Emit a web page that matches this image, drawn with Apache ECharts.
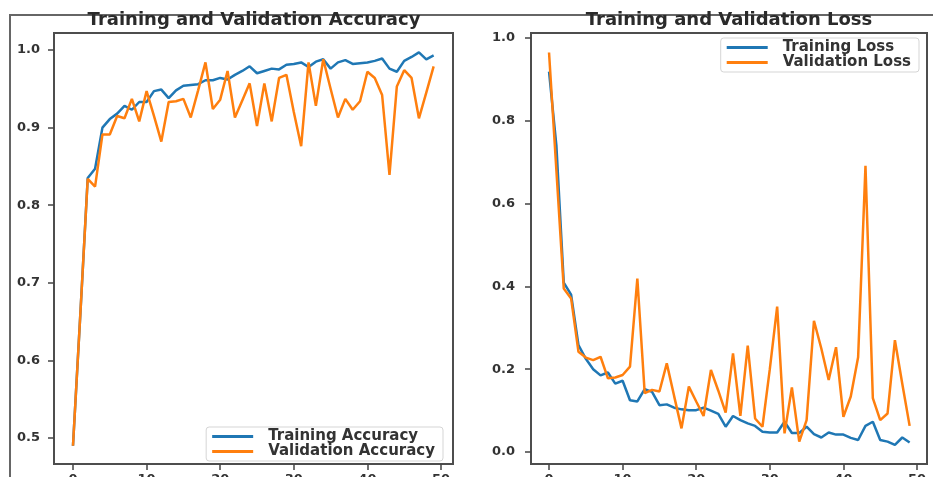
<!DOCTYPE html>
<html><head><meta charset="utf-8">
<script src="https://cdn.jsdelivr.net/npm/echarts@6/dist/echarts.min.js"></script>
<style>html,body{margin:0;padding:0;background:#fff}#c{width:933px;height:477px}</style>
</head><body><div id="c"></div>
<script>
// ---- data ----
const xTicks = [0, 10, 20, 30, 40, 50];
const accTicks = [0.5, 0.6, 0.7, 0.8, 0.9, 1.0];
const lossTicks = [0.0, 0.2, 0.4, 0.6, 0.8, 1.0];

const trainAcc = [0.490,0.660,0.835,0.847,0.900,0.911,0.918,0.928,0.923,0.933,
                  0.933,0.947,0.949,0.938,0.948,0.954,0.955,0.956,0.961,0.961,
                  0.964,0.962,0.968,0.973,0.979,0.970,0.973,0.976,0.975,0.981,
                  0.982,0.984,0.978,0.985,0.988,0.976,0.984,0.987,0.982,0.983,
                  0.984,0.986,0.989,0.976,0.972,0.986,0.991,0.997,0.988,0.993];
const valAcc = [0.490,0.660,0.834,0.824,0.891,0.891,0.915,0.912,0.937,0.908,
                0.947,0.915,0.882,0.933,0.934,0.937,0.913,0.948,0.984,0.924,
                0.936,0.973,0.913,0.935,0.957,0.902,0.957,0.908,0.964,0.968,
                0.920,0.876,0.984,0.928,0.988,0.950,0.913,0.937,0.923,0.934,
                0.972,0.964,0.942,0.839,0.953,0.974,0.964,0.912,0.945,0.979];
const trainLoss = [0.919,0.740,0.409,0.380,0.258,0.225,0.200,0.185,0.192,0.165,
                   0.172,0.125,0.122,0.152,0.145,0.113,0.115,0.107,0.103,0.101,
                   0.101,0.107,0.100,0.092,0.061,0.087,0.077,0.069,0.063,0.049,
                   0.047,0.047,0.073,0.046,0.046,0.061,0.043,0.035,0.047,0.042,
                   0.042,0.034,0.029,0.063,0.073,0.029,0.025,0.017,0.035,0.023];
const valLoss = [0.965,0.680,0.395,0.371,0.242,0.228,0.222,0.230,0.178,0.180,
                 0.186,0.206,0.419,0.142,0.150,0.146,0.214,0.135,0.057,0.158,
                 0.122,0.087,0.198,0.148,0.095,0.238,0.087,0.257,0.081,0.061,
                 0.200,0.351,0.045,0.156,0.025,0.077,0.317,0.250,0.174,0.253,
                 0.085,0.134,0.229,0.691,0.130,0.077,0.093,0.270,0.165,0.063];

const titles = ['Training and Validation Accuracy', 'Training and Validation Loss'];
const names = ['Training Accuracy', 'Validation Accuracy', 'Training Loss', 'Validation Loss'];

// ---- rendering ----
const FONT = 'DejaVu Sans';
const BLUE = '#1f77b4', ORANGE = '#ff7f0e';
const pts = a => a.map((v, i) => [i, v]);

const tickStyle = { show: true, inside: false, length: 6, lineStyle: { color: '#444', width: 1.5 } };
const labelStyle = { fontFamily: FONT, fontSize: 13, fontWeight: 'bold', color: '#333' };

function xAxis(gridIndex, min, max) {
  return {
    type: 'value', gridIndex, min, max, position: 'bottom',
    axisLine: { show: false, onZero: false }, splitLine: { show: false },
    axisTick: Object.assign({ customValues: xTicks }, tickStyle),
    axisLabel: Object.assign({ customValues: xTicks, margin: 9, formatter: v => String(v) }, labelStyle)
  };
}
function yAxis(gridIndex, min, max, ticks, margin) {
  return {
    type: 'value', gridIndex, min, max, position: 'left',
    axisLine: { show: false, onZero: false }, splitLine: { show: false },
    axisTick: Object.assign({ customValues: ticks }, tickStyle),
    axisLabel: Object.assign({ customValues: ticks, margin, formatter: v => v.toFixed(1) }, labelStyle)
  };
}
function line(name, data, color, idx) {
  return {
    type: 'line', name, data: pts(data), xAxisIndex: idx, yAxisIndex: idx,
    showSymbol: false, symbol: 'none', smooth: false,
    lineStyle: { color, width: 2.5 }, itemStyle: { color }
  };
}
const legendBase = {
  orient: 'vertical', icon: 'rect', itemWidth: 41, itemHeight: 3, itemGap: 0,
  padding: [2, 8, 2, 6], backgroundColor: '#fff', borderColor: '#d5d5d5',
  borderWidth: 1, borderRadius: 3, selectedMode: false,
  textStyle: { fontFamily: FONT, fontSize: 15, fontWeight: 'bold', color: '#333',
               lineHeight: 14, padding: [0, 0, 0, 10] }
};
const gridBase = { show: true, borderColor: '#4d4d4d', borderWidth: 2, backgroundColor: 'transparent',
                   containLabel: false, outerBoundsMode: 'none' };

const chart = echarts.init(document.getElementById('c'), null, { renderer: 'canvas' });
chart.setOption({
  animation: false,
  backgroundColor: '#fff',
  title: [
    { text: titles[0], left: 254, top: 11, textAlign: 'center', padding: 0,
      textStyle: { fontFamily: FONT, fontSize: 18, fontWeight: 'bold', color: '#2a2a2a' } },
    { text: titles[1], left: 729, top: 11, textAlign: 'center', padding: 0,
      textStyle: { fontFamily: FONT, fontSize: 18, fontWeight: 'bold', color: '#2a2a2a' } }
  ],
  grid: [
    Object.assign({ left: 54, top: 33, width: 399, height: 431 }, gridBase),
    Object.assign({ left: 531, top: 33, width: 396, height: 431 }, gridBase)
  ],
  xAxis: [xAxis(0, -2.58, 51.63), xAxis(1, -2.45, 51.36)],
  yAxis: [yAxis(0, 0.4665, 1.0219, accTicks, 14), yAxis(1, -0.029, 1.012, lossTicks, 16)],
  legend: [
    Object.assign({}, legendBase, { data: [names[0], names[1]], right: 490, bottom: 16 }),
    Object.assign({}, legendBase, { data: [names[2], names[3]], right: 14, top: 38 })
  ],
  series: [
    line(names[0], trainAcc, BLUE, 0),
    line(names[1], valAcc, ORANGE, 0),
    line(names[2], trainLoss, BLUE, 1),
    line(names[3], valLoss, ORANGE, 1)
  ],
  graphic: [
    { type: 'line', silent: true, shape: { x1: 9, y1: 15, x2: 933, y2: 15 }, style: { stroke: '#666', lineWidth: 2 } },
    { type: 'line', silent: true, shape: { x1: 10, y1: 15, x2: 10, y2: 477 }, style: { stroke: '#666', lineWidth: 2 } }
  ]
});
</script></body></html>
